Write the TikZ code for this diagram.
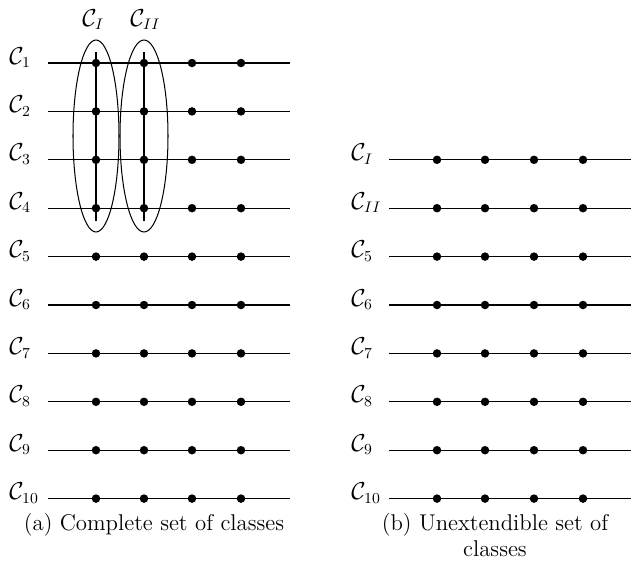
\documentclass[tikz,border=0pt]{standalone}
\usepackage{amsmath}
\begin{document}
\begin{tikzpicture}[x=0.588pt,y=-0.588pt,
  every node/.style={font=\fontsize{13.4}{16}\selectfont},
  rowline/.style={line width=0.75pt},
  pt/.style={circle,fill=black,inner sep=0pt,minimum size=5pt},
  lbl/.style={anchor=base west,inner sep=0pt}]
\useasboundingbox (0,0) rectangle (636,560);
% left panel
\foreach \i/\lab in {1/1,2/2,3/3,4/4,5/5,6/6,7/7,8/8,9/9,10/10}{
  \pgfmathsetmacro{\yy}{63+48.4*(\i-1)}
  \node[lbl] (L\i) at (9,\yy+1) {$\mathcal{C}_{\lab}$};
  \coordinate (La\i) at (48,\yy);
  \coordinate (Lb\i) at (290,\yy);
  \draw[rowline] (La\i) -- (Lb\i);
  \foreach \c/\x in {1/96,2/144,3/192,4/241}{
    \node[pt] (p\i-\c) at (\x,\yy) {};
  }
}
\coordinate (v1t) at (96,52); \coordinate (v1b) at (96,221);
\coordinate (v2t) at (144,52); \coordinate (v2b) at (144,221);
\draw[rowline] (v1t) -- (v1b);
\draw[rowline] (v2t) -- (v2b);
\draw[line width=0.6pt] (96,136) ellipse [x radius=23, y radius=96];
\draw[line width=0.6pt] (144,136) ellipse [x radius=24, y radius=96];
\node[anchor=base west,inner sep=0pt] (CI) at (82,26) {$\mathcal{C}_{I}$};
\node[anchor=base west,inner sep=0pt] (CII) at (130,26) {$\mathcal{C}_{II}$};
% right panel
\foreach \i/\lab in {3/I,4/II,5/5,6/6,7/7,8/8,9/9,10/10}{
  \pgfmathsetmacro{\yy}{63+48.4*(\i-1)}
  \node[lbl] (R\i) at (351,\yy+1) {$\mathcal{C}_{\lab}$};
  \coordinate (Ra\i) at (389,\yy);
  \coordinate (Rb\i) at (631,\yy);
  \draw[rowline] (Ra\i) -- (Rb\i);
  \foreach \c/\x in {1/437,2/485,3/534,4/583}{
    \node[pt] (q\i-\c) at (\x,\yy) {};
  }
}
% captions
\node[anchor=base,inner sep=0pt] (capa) at (154,530) {(a) Complete set of classes};
\node[anchor=base,inner sep=0pt] (capb1) at (495,530) {(b) Unextendible set of};
\node[anchor=base,inner sep=0pt] (capb2) at (495,556) {classes};
\end{tikzpicture}
\end{document}
